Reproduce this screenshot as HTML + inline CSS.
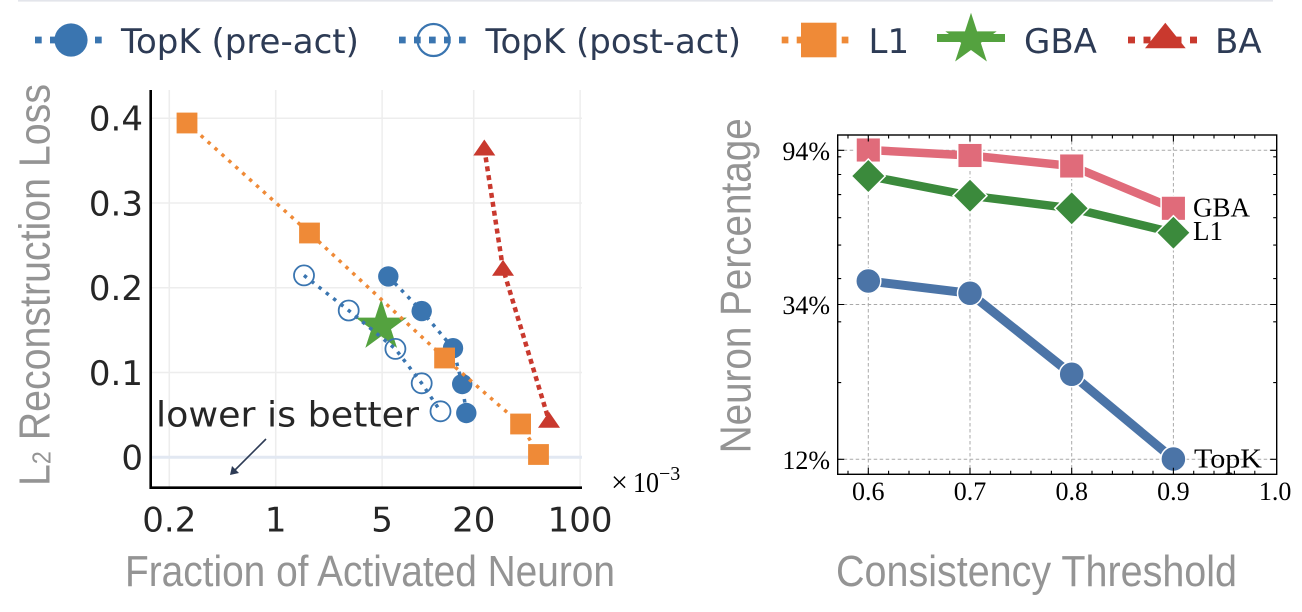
<!DOCTYPE html>
<html>
<head>
<meta charset="utf-8">
<style>
html,body{margin:0;padding:0;background:#fff;}
svg{display:block;}
</style>
</head>
<body>
<svg width="1302" height="612" viewBox="0 0 1302 612" xmlns="http://www.w3.org/2000/svg">
<rect width="1302" height="612" fill="#fff"/>

<!-- legend frame top edge -->
<line x1="18" y1="0.8" x2="1273" y2="0.8" stroke="#e3e5eb" stroke-width="1.6"/>

<!-- ===== LEGEND ===== -->
<g>
  <line x1="35" y1="40" x2="104" y2="40" stroke="#3a75b0" stroke-width="6.7" stroke-dasharray="6.7 8.3"/>
  <circle cx="71" cy="40" r="16.6" fill="#3a75b0"/>
  <text x="121" y="53" font-family="DejaVu Sans, sans-serif" font-size="34" fill="#2d3b55">TopK (pre-act)</text>
  <line x1="399" y1="40" x2="468" y2="40" stroke="#3a75b0" stroke-width="6.7" stroke-dasharray="6.7 8.3"/>
  <circle cx="433.5" cy="40" r="16" fill="none" stroke="#3a75b0" stroke-width="2.2"/>
  <text x="485.5" y="53" font-family="DejaVu Sans, sans-serif" font-size="34" fill="#2d3b55">TopK (post-act)</text>
  <line x1="781.7" y1="40" x2="850" y2="40" stroke="#ef8a37" stroke-width="6.7" stroke-dasharray="6.7 8.3"/>
  <rect x="801" y="22.7" width="35.5" height="34.6" fill="#ef8a37"/>
  <text x="868.5" y="53" font-family="DejaVu Sans, sans-serif" font-size="34" fill="#2d3b55">L1</text>
  <line x1="937" y1="38" x2="1005" y2="38" stroke="#54a23f" stroke-width="8"/>
  <path transform="translate(971,39.7)" d="M0,-27 L6.06,-8.34 L25.68,-8.34 L9.81,3.19 L15.87,21.84 L0,10.31 L-15.87,21.84 L-9.81,3.19 L-25.68,-8.34 L-6.06,-8.34 Z" fill="#54a23f"/>
  <text x="1024" y="53" font-family="DejaVu Sans, sans-serif" font-size="34" fill="#2d3b55">GBA</text>
  <line x1="1128" y1="40" x2="1198" y2="40" stroke="#c9392e" stroke-width="6.7" stroke-dasharray="7 8.5"/>
  <polygon points="1165.3,22.7 1145,48.3 1185.7,48.3" fill="#c9392e"/>
  <text x="1215" y="53" font-family="DejaVu Sans, sans-serif" font-size="34" fill="#2d3b55">BA</text>
</g>

<!-- ===== LEFT PLOT ===== -->
<g>
  <g stroke="#ededed" stroke-width="1.5">
    <line x1="169.3" y1="90" x2="169.3" y2="487" />
    <line x1="275.7" y1="90" x2="275.7" y2="487" />
    <line x1="382.1" y1="90" x2="382.1" y2="487" />
    <line x1="473.7" y1="90" x2="473.7" y2="487" />
    <line x1="580.1" y1="90" x2="580.1" y2="487" />
    <line x1="151" y1="118.3" x2="582" y2="118.3" />
    <line x1="151" y1="203.05" x2="582" y2="203.05" />
    <line x1="151" y1="287.8" x2="582" y2="287.8" />
    <line x1="151" y1="372.55" x2="582" y2="372.55" />
  </g>
  <line x1="151" y1="457.3" x2="582" y2="457.3" stroke="#e2e8f2" stroke-width="3"/>

  <path transform="translate(381.2,326)" d="M0,-27 L6.06,-8.34 L25.68,-8.34 L9.81,3.19 L15.87,21.84 L0,10.31 L-15.87,21.84 L-9.81,3.19 L-25.68,-8.34 L-6.06,-8.34 Z" fill="#54a23f"/>

  <polyline points="388.3,276.4 421.7,311.1 453,348.2 462.2,384 466.3,413" fill="none" stroke="#3a75b0" stroke-width="3.5" stroke-dasharray="3.5 5.8"/>
  <g fill="#3a75b0">
    <circle cx="388.3" cy="276.4" r="10.2"/>
    <circle cx="421.7" cy="311.1" r="10.2"/>
    <circle cx="453" cy="348.2" r="10.2"/>
    <circle cx="462.2" cy="384" r="10.2"/>
    <circle cx="466.3" cy="413" r="10.2"/>
  </g>

  <polyline points="304,275.4 348.7,310.5 395.4,348.9 421.7,383.3 440.5,411.3" fill="none" stroke="#3a75b0" stroke-width="3.5" stroke-dasharray="3.5 5.8"/>
  <g fill="none" stroke="#3a75b0" stroke-width="1.8">
    <circle cx="304" cy="275.4" r="10"/>
    <circle cx="348.7" cy="310.5" r="10"/>
    <circle cx="395.4" cy="348.9" r="10"/>
    <circle cx="421.7" cy="383.3" r="10"/>
    <circle cx="440.5" cy="411.3" r="10"/>
  </g>

  <polyline points="187,123 309.5,233 444.6,358 520.6,424 538.5,454.5" fill="none" stroke="#ef8a37" stroke-width="3.5" stroke-dasharray="3.5 5.8"/>
  <g fill="#ef8a37">
    <rect x="176.6" y="112.6" width="20.8" height="20.8"/>
    <rect x="299.1" y="222.6" width="20.8" height="20.8"/>
    <rect x="434.2" y="347.6" width="20.8" height="20.8"/>
    <rect x="510.2" y="413.6" width="20.8" height="20.8"/>
    <rect x="528.1" y="444.1" width="20.8" height="20.8"/>
  </g>

  <polyline points="484.3,148.5 503,268.7 549,420.7" fill="none" stroke="#c9392e" stroke-width="4.5" stroke-dasharray="5 4"/>
  <g fill="#c9392e">
    <polygon points="484.3,139.5 473.3,155.5 495.3,155.5"/>
    <polygon points="503,259.7 492,275.7 514,275.7"/>
    <polygon points="549,411.7 538,427.7 560,427.7"/>
  </g>

  <line x1="150.7" y1="90" x2="150.7" y2="489" stroke="#000" stroke-width="2.6"/>
  <line x1="149.5" y1="487.7" x2="582" y2="487.7" stroke="#000" stroke-width="2.6"/>

  <g font-family="DejaVu Sans, sans-serif" font-size="34" fill="#262626" text-anchor="end">
    <text x="143" y="130.7">0.4</text>
    <text x="143" y="215.4">0.3</text>
    <text x="143" y="300.2">0.2</text>
    <text x="143" y="385">0.1</text>
    <text x="143" y="469.7">0</text>
  </g>
  <g font-family="DejaVu Sans, sans-serif" font-size="34" fill="#262626" text-anchor="middle">
    <text x="169.3" y="531.7">0.2</text>
    <text x="275.7" y="531.7">1</text>
    <text x="382.1" y="531.7">5</text>
    <text x="473.7" y="531.7">20</text>
    <text x="580.1" y="531.7">100</text>
  </g>

  <text x="611" y="492" font-family="Liberation Serif, serif" font-size="30" fill="#000">×</text>
  <text x="633" y="492" font-family="Liberation Serif, serif" font-size="28" fill="#000" textLength="26" lengthAdjust="spacingAndGlyphs">10</text>
  <text x="659" y="480" font-family="Liberation Serif, serif" font-size="20" fill="#000">−3</text>

  <text x="156" y="426.7" font-family="DejaVu Sans, sans-serif" font-size="35" fill="#262626" textLength="263" lengthAdjust="spacingAndGlyphs">lower is better</text>
  <line x1="266" y1="439" x2="234" y2="471" stroke="#2d3b55" stroke-width="1.6"/>
  <polygon points="230,475 232,466 239,473" fill="#2d3b55"/>

  <text x="125" y="586" font-family="Liberation Sans, sans-serif" font-size="44" fill="#949494" textLength="490" lengthAdjust="spacingAndGlyphs">Fraction of Activated Neuron</text>
  <text transform="translate(49.5,486) rotate(-90)" font-family="Liberation Sans, sans-serif" font-size="44" fill="#949494" textLength="402" lengthAdjust="spacingAndGlyphs">L<tspan font-size="26" dy="1">2</tspan><tspan dy="-1"> Reconstruction Loss</tspan></text>
</g>

<!-- ===== RIGHT PLOT ===== -->
<g>
  <rect x="837.7" y="135" width="439" height="339.3" fill="#fff"/>
  <g stroke="#a9a9a9" stroke-width="1" stroke-dasharray="3.5 2.5">
    <line x1="868.3" y1="135" x2="868.3" y2="474.3"/>
    <line x1="970" y1="135" x2="970" y2="474.3"/>
    <line x1="1071.7" y1="135" x2="1071.7" y2="474.3"/>
    <line x1="1173.4" y1="135" x2="1173.4" y2="474.3"/>
    <line x1="837.7" y1="150.3" x2="1276.7" y2="150.3"/>
    <line x1="837.7" y1="304.5" x2="1276.7" y2="304.5"/>
    <line x1="837.7" y1="459.3" x2="1276.7" y2="459.3"/>
  </g>

  <polyline points="868.3,150 970,155.5 1071.7,166 1173.4,208.3" fill="none" stroke="#e06b7a" stroke-width="8.5" stroke-linejoin="round"/>
  <g fill="#e06b7a" stroke="#fff" stroke-width="1.5">
    <rect x="856" y="137.7" width="24.6" height="24.6"/>
    <rect x="957.7" y="143.2" width="24.6" height="24.6"/>
    <rect x="1059.4" y="153.7" width="24.6" height="24.6"/>
    <rect x="1161.1" y="196" width="24.6" height="24.6"/>
  </g>

  <polyline points="868.3,176 970,195.7 1071.7,208.3 1173.4,232.7" fill="none" stroke="#3b8a3c" stroke-width="8.5" stroke-linejoin="round"/>
  <g fill="#3b8a3c" stroke="#fff" stroke-width="1.5">
    <polygon points="868.3,159 885.3,176 868.3,193 851.3,176"/>
    <polygon points="970,178.7 987,195.7 970,212.7 953,195.7"/>
    <polygon points="1071.7,191.3 1088.7,208.3 1071.7,225.3 1054.7,208.3"/>
    <polygon points="1173.4,215.7 1190.4,232.7 1173.4,249.7 1156.4,232.7"/>
  </g>

  <polyline points="868.3,281 970,293.3 1071.7,374.3 1173.4,459" fill="none" stroke="#4b74a7" stroke-width="9" stroke-linejoin="round"/>
  <g fill="#4b74a7" stroke="#fff" stroke-width="1.5">
    <circle cx="868.3" cy="281" r="12.5"/>
    <circle cx="970" cy="293.3" r="12.5"/>
    <circle cx="1071.7" cy="374.3" r="12.5"/>
    <circle cx="1173.4" cy="459" r="12.5"/>
  </g>

  <g font-family="Liberation Serif, serif" font-size="27" fill="#000">
    <text x="1193" y="216.7">GBA</text>
    <text x="1193" y="240">L1</text>
    <text x="1194" y="467.5" textLength="68" lengthAdjust="spacingAndGlyphs">TopK</text>
  </g>

  <rect x="837.7" y="135" width="439" height="339.3" fill="none" stroke="#000" stroke-width="1.4"/>

  <path fill="none" stroke="#000" stroke-width="1.1" d="
    M868.3 474.3v-6.5 M970 474.3v-6.5 M1071.7 474.3v-6.5 M1173.4 474.3v-6.5
    M868.3 135v6.5 M970 135v6.5 M1071.7 135v6.5 M1173.4 135v6.5
    M848 474.3v-3.5 M888.6 474.3v-3.5 M909 474.3v-3.5 M929.3 474.3v-3.5 M949.7 474.3v-3.5
    M990.3 474.3v-3.5 M1010.7 474.3v-3.5 M1031 474.3v-3.5 M1051.4 474.3v-3.5
    M1092 474.3v-3.5 M1112.4 474.3v-3.5 M1132.7 474.3v-3.5 M1153 474.3v-3.5
    M1193.7 474.3v-3.5 M1214 474.3v-3.5 M1234.4 474.3v-3.5 M1254.8 474.3v-3.5
    M848 135v3.5 M888.6 135v3.5 M909 135v3.5 M929.3 135v3.5 M949.7 135v3.5
    M990.3 135v3.5 M1010.7 135v3.5 M1031 135v3.5 M1051.4 135v3.5
    M1092 135v3.5 M1112.4 135v3.5 M1132.7 135v3.5 M1153 135v3.5
    M1193.7 135v3.5 M1214 135v3.5 M1234.4 135v3.5 M1254.8 135v3.5
    M837.7 150.3h6.5 M837.7 304.5h6.5 M837.7 459.3h6.5
    M1276.7 150.3h-6.5 M1276.7 304.5h-6.5 M1276.7 459.3h-6.5
    M837.7 156.8h3.5 M837.7 174.5h3.5 M837.7 194.6h3.5 M837.7 217.7h3.5 M837.7 245.1h3.5 M837.7 278.6h3.5 M837.7 321.8h3.5 M837.7 382.6h3.5
    M1276.7 156.8h-3.5 M1276.7 174.5h-3.5 M1276.7 194.6h-3.5 M1276.7 217.7h-3.5 M1276.7 245.1h-3.5 M1276.7 278.6h-3.5 M1276.7 321.8h-3.5 M1276.7 382.6h-3.5
  "/>

  <g font-family="Liberation Serif, serif" font-size="26" fill="#000" text-anchor="end">
    <text x="830" y="159.8">94%</text>
    <text x="830" y="314">34%</text>
    <text x="830" y="468.8">12%</text>
  </g>
  <g font-family="Liberation Serif, serif" font-size="26" fill="#000" text-anchor="middle">
    <text x="868.3" y="500">0.6</text>
    <text x="970" y="500">0.7</text>
    <text x="1071.7" y="500">0.8</text>
    <text x="1173.4" y="500">0.9</text>
    <text x="1275.1" y="500">1.0</text>
  </g>

  <text x="836" y="586" font-family="Liberation Sans, sans-serif" font-size="44" fill="#949494" textLength="401" lengthAdjust="spacingAndGlyphs">Consistency Threshold</text>
  <text transform="translate(750.5,453.3) rotate(-90)" font-family="Liberation Sans, sans-serif" font-size="44" fill="#949494" textLength="335" lengthAdjust="spacingAndGlyphs">Neuron Percentage</text>
</g>
</svg>
</body>
</html>
